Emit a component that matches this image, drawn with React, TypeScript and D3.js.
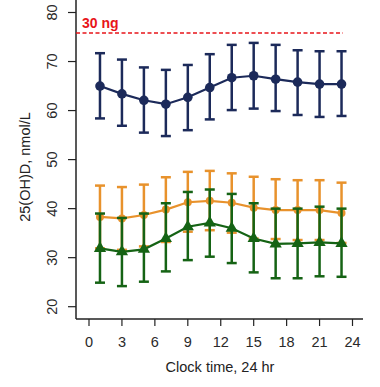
import React from "react";
import * as d3 from "d3";

const hours = [1, 3, 5, 7, 9, 11, 13, 15, 17, 19, 21, 23];

const navyMean = [65.0, 63.4, 62.1, 61.3, 62.7, 64.7, 66.7, 67.1, 66.4, 65.8, 65.4, 65.4];
const navyUpper = [71.7, 70.4, 68.8, 68.3, 69.3, 71.5, 73.4, 73.8, 73.4, 72.3, 72.1, 72.1];
const navyLower = [58.4, 56.9, 55.5, 54.8, 56.0, 58.2, 60.1, 60.4, 59.9, 59.1, 58.7, 58.9];

const orangeMean = [38.3, 38.0, 38.7, 39.8, 41.3, 41.6, 41.2, 40.2, 39.7, 39.7, 39.7, 39.1];
const orangeUpper = [44.7, 44.4, 44.9, 46.4, 47.5, 47.7, 47.2, 46.5, 46.0, 45.8, 45.8, 45.3];
const orangeLower = [31.9, 31.6, 32.3, 33.2, 35.3, 35.6, 35.1, 33.9, 33.8, 33.6, 33.6, 33.0];

const greenMean = [31.9, 31.2, 31.7, 33.9, 36.3, 37.1, 36.0, 33.9, 32.8, 32.9, 33.1, 32.9];
const greenUpper = [39.0, 38.1, 39.0, 41.1, 43.4, 43.9, 43.0, 41.1, 40.0, 40.0, 40.4, 40.0];
const greenLower = [24.9, 24.2, 25.1, 27.2, 29.5, 30.2, 28.9, 27.0, 25.8, 25.8, 26.2, 26.1];

const xTicks = [0, 3, 6, 9, 12, 15, 18, 21, 24];
const yTicks = [20, 30, 40, 50, 60, 70, 80];
const refValue = 75.8;
const refLabel = "30 ng";
const xTitle = "Clock time, 24 hr";
const yTitle = "25(OH)D, nmol/L";

const W = 380;
const H = 387;
const FONT = "Liberation Sans, Arial, sans-serif";

export default function App() {
  const x = d3.scaleLinear().domain([0, 24]).range([89, 352.5]);
  const y = d3.scaleLinear().domain([20, 80]).range([306.7, 12.5]);
  const axisLeft = 76;
  const axisBottom = 319;
  const axisRight = 363;

  const series = [
    { mean: navyMean, up: navyUpper, lo: navyLower, color: "#1c2a5a", marker: "circle", r: 4.8 },
    { mean: orangeMean, up: orangeUpper, lo: orangeLower, color: "#e8922c", marker: "circle", r: 4 },
    { mean: greenMean, up: greenUpper, lo: greenLower, color: "#156314", marker: "triangle", r: 6 },
  ];

  const line = d3
    .line<number>()
    .x((_, i) => x(hours[i]))
    .y((d) => y(d));

  const tri = d3.symbol().type(d3.symbolTriangle).size(65);

  return (
    <svg
      width={W}
      height={H}
      style={{ position: "absolute", left: 0, top: 0, background: "#fff" }}
      fontFamily={FONT}
    >
      <line x1={axisLeft} x2={axisLeft} y1={0} y2={axisBottom} stroke="#222" strokeWidth={1.5} />
      <line x1={axisLeft} x2={axisRight} y1={axisBottom} y2={axisBottom} stroke="#222" strokeWidth={1.5} />
      {yTicks.map((t) => (
        <g key={"y" + t}>
          <line x1={axisLeft - 8} x2={axisLeft} y1={y(t)} y2={y(t)} stroke="#222" strokeWidth={1.2} />
          <text
            transform={`translate(57,${y(t)}) rotate(-90)`}
            textAnchor="middle"
            fontSize={14.5}
            fill="#2a2a2a"
          >
            {t}
          </text>
        </g>
      ))}
      {xTicks.map((t) => (
        <g key={"x" + t}>
          <line x1={x(t)} x2={x(t)} y1={axisBottom} y2={axisBottom + 7} stroke="#222" strokeWidth={1.2} />
          <text x={x(t)} y={347} textAnchor="middle" fontSize={14.5} fill="#2a2a2a">
            {t}
          </text>
        </g>
      ))}
      <text x={220} y={372} textAnchor="middle" fontSize={14.5} fill="#222">
        {xTitle}
      </text>
      <text transform={`translate(30,167) rotate(-90)`} textAnchor="middle" fontSize={14.5} fill="#222">
        {yTitle}
      </text>

      <line
        x1={axisLeft}
        x2={343}
        y1={y(refValue)}
        y2={y(refValue)}
        stroke="#e8141a"
        strokeWidth={1.5}
        strokeDasharray="4,2.5"
      />
      <text x={82} y={28} fontSize={14} fontWeight="bold" fill="#e8141a">
        {refLabel}
      </text>

      {series.map((s, si) => (
        <g key={si}>
          <path d={line(s.mean) || ""} fill="none" stroke={s.color} strokeWidth={2.2} />
          {hours.map((h, i) => (
            <g key={i}>
              <line x1={x(h)} x2={x(h)} y1={y(s.up[i])} y2={y(s.lo[i])} stroke={s.color} strokeWidth={2.5} />
              <line x1={x(h) - 5} x2={x(h) + 5} y1={y(s.up[i])} y2={y(s.up[i])} stroke={s.color} strokeWidth={2.5} />
              <line x1={x(h) - 5} x2={x(h) + 5} y1={y(s.lo[i])} y2={y(s.lo[i])} stroke={s.color} strokeWidth={2.5} />
              {s.marker === "circle" ? (
                <circle cx={x(h)} cy={y(s.mean[i])} r={s.r} fill={s.color} />
              ) : (
                <path d={tri() || ""} transform={`translate(${x(h)},${y(s.mean[i])})`} fill={s.color} />
              )}
            </g>
          ))}
        </g>
      ))}
    </svg>
  );
}
